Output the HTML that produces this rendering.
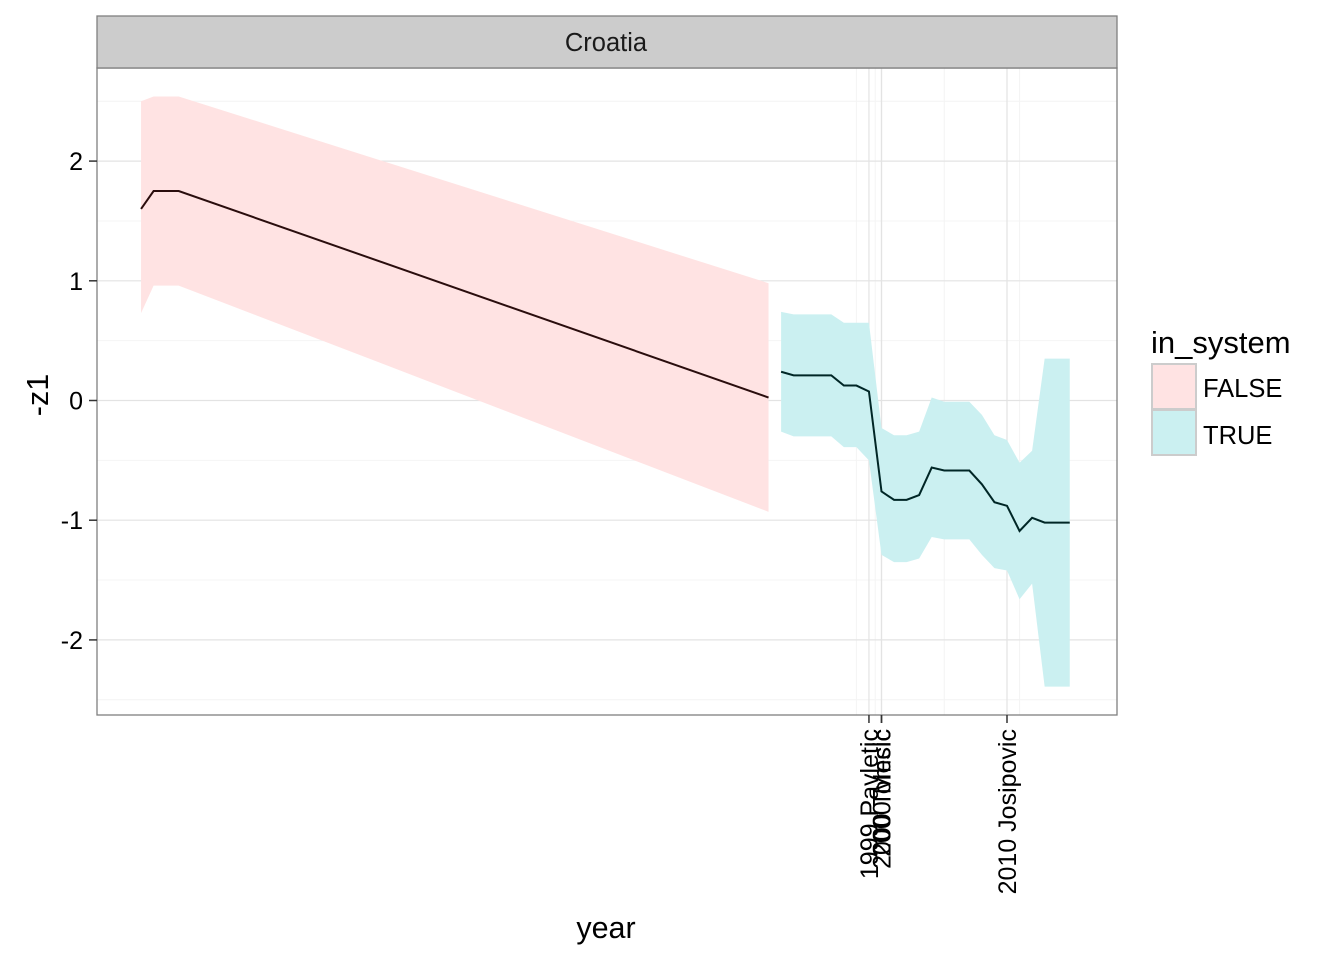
<!DOCTYPE html>
<html><head><meta charset="utf-8"><style>
html,body{margin:0;padding:0;background:#fff;}
svg{display:block;font-family:"Liberation Sans",Arial,sans-serif;}
</style></head><body>
<svg id="chart" width="1344" height="960" viewBox="0 0 1344 960">
<rect x="97" y="68" width="1020" height="647" fill="#fff"/>
<g id="grid"></g>
<g id="ribbons"></g>
<g id="lines"></g>
<rect x="97" y="68" width="1020" height="647" fill="none" stroke="#7f7f7f" stroke-width="1.3"/>
<rect x="97" y="16" width="1020" height="52" fill="#cccccc" stroke="#7f7f7f" stroke-width="1.3"/>
<text x="606" y="51" font-size="25.5" text-anchor="middle" fill="#1a1a1a">Croatia</text>
<g id="yaxis"></g>
<g id="xaxis"></g>
<text x="606" y="938" font-size="30.5" text-anchor="middle">year</text>
<text transform="translate(48,395) rotate(-90)" font-size="30.5" text-anchor="middle">-z1</text>
<g>
<text x="1151" y="353" font-size="31">in_system</text>
<rect x="1152" y="364" width="44" height="45" fill="#ffe3e3" stroke="#cccccc" stroke-width="2"/>
<rect x="1152" y="410" width="44" height="45" fill="#cbf0f1" stroke="#cccccc" stroke-width="2"/>
<text x="1203" y="397" font-size="25.5">FALSE</text>
<text x="1203" y="444" font-size="25.5">TRUE</text>
</g>
</svg>
<script>
const falseYears=[1941,1942,1944,1991];
const falseMean=[1.60,1.75,1.75,0.025];
const falseUpper=[2.50,2.54,2.54,0.98];
const falseLower=[0.73,0.96,0.96,-0.93];
const trueYears=[1992,1993,1996,1997,1998,1999,2000,2001,2002,2003,2004,2005,2007,2008,2009,2010,2011,2012,2013,2015];
const trueMean=[0.24,0.21,0.21,0.125,0.125,0.075,-0.76,-0.83,-0.83,-0.79,-0.56,-0.585,-0.585,-0.70,-0.85,-0.88,-1.09,-0.98,-1.02,-1.02];
const trueUpper=[0.74,0.72,0.72,0.65,0.65,0.65,-0.23,-0.29,-0.29,-0.26,0.025,-0.01,-0.01,-0.12,-0.29,-0.33,-0.52,-0.42,0.35,0.35];
const trueLower=[-0.26,-0.30,-0.30,-0.39,-0.39,-0.50,-1.29,-1.35,-1.35,-1.32,-1.14,-1.16,-1.16,-1.29,-1.40,-1.42,-1.66,-1.53,-2.39,-2.39];
const yTicks=[2,1,0,-1,-2];
const yMinor=[2.5,1.5,0.5,-0.5,-1.5,-2.5];
const xTickYears=[1999,2000,2000,2010];
const xTickLabels=["1999 Pavletic","2000 Mesic","2000 Tomcic","2010 Josipovic"];
const xMinorYears=[1998,1999.5,2005,2011];

const NS="http://www.w3.org/2000/svg";
function X(yr){return 881.5+(yr-2000)*12.55;}
function Y(v){return 400.5-v*119.7;}
function mk(tag,attrs,parent){const e=document.createElementNS(NS,tag);for(const k in attrs)e.setAttribute(k,attrs[k]);parent.appendChild(e);return e;}
const grid=document.getElementById('grid');
yMinor.forEach(v=>{const l=mk('line',{x1:97,x2:1117,y1:Y(v),y2:Y(v),stroke:'#f4f4f4','stroke-width':1},grid);

});
xMinorYears.forEach(v=>{const l=mk('line',{x1:X(v),x2:X(v),y1:68,y2:715,stroke:'#f4f4f4','stroke-width':1},grid);

});
yTicks.forEach(v=>{const l=mk('line',{x1:97,x2:1117,y1:Y(v),y2:Y(v),stroke:'#e3e3e3','stroke-width':1.2},grid);

});
xTickYears.forEach(v=>{const l=mk('line',{x1:X(v),x2:X(v),y1:68,y2:715,stroke:'#e3e3e3','stroke-width':1.2},grid);

});

function ribbon(xs,up,lo,fill,name){
  let pts=xs.map((x,i)=>X(x)+','+Y(up[i]));
  for(let i=xs.length-1;i>=0;i--)pts.push(X(xs[i])+','+Y(lo[i]));
  const p=mk('polygon',{points:pts.join(' '),fill:fill},document.getElementById('ribbons'));
  
  
}
function line(xs,ys,stroke,name){
  const p=mk('polyline',{points:xs.map((x,i)=>X(x)+','+Y(ys[i])).join(' '),fill:'none',stroke:stroke,'stroke-width':2},document.getElementById('lines'));
  
  
}
ribbon(falseYears,falseUpper,falseLower,'#ffe3e3','ribbon-false');
ribbon(trueYears,trueUpper,trueLower,'#cbf0f1','ribbon-true');
line(falseYears,falseMean,'#2a0d0d','line-false');
line(trueYears,trueMean,'#002626','line-true');

const ya=document.getElementById('yaxis');
yTicks.forEach(v=>{
  const t=mk('line',{x1:89,x2:97,y1:Y(v),y2:Y(v),stroke:'#333','stroke-width':1.5},ya);
  
  
  const tx=mk('text',{x:83,y:Y(v)+9,'font-size':25,'text-anchor':'end',fill:'#000'},ya);
  tx.textContent=String(v);
  
  
});
const xa=document.getElementById('xaxis');
xTickYears.forEach((v,i)=>{
  const t=mk('line',{x1:X(v),x2:X(v),y1:715,y2:723,stroke:'#333','stroke-width':1.5},xa);
  
  
  const tx=mk('text',{transform:'translate('+(X(v)+9)+',729) rotate(-90)','font-size':25,'text-anchor':'end',fill:'#000'},xa);
  tx.textContent=xTickLabels[i];
  
  
});
</script>
</body></html>
